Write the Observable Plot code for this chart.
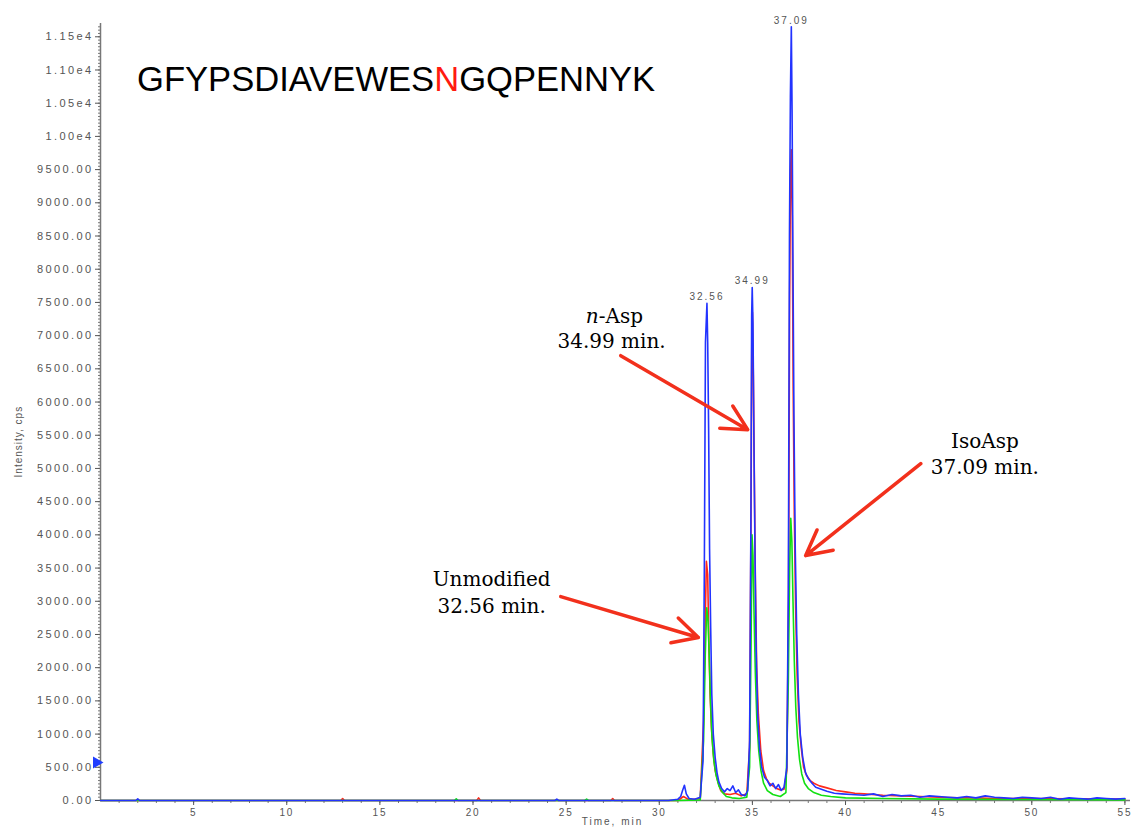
<!DOCTYPE html>
<html>
<head>
<meta charset="utf-8">
<script src="https://cdn.jsdelivr.net/npm/d3@7"></script>
<script src="https://cdn.jsdelivr.net/npm/@observablehq/plot@0.6"></script>
<style>
  html, body { margin: 0; padding: 0; background: #fff; }
  #wrap { position: relative; width: 1134px; height: 830px; overflow: hidden; }
  #title { position: absolute; left: 137px; top: 62px; font-family: "Liberation Sans", Arial, sans-serif;
           font-size: 34.6px; line-height: 1; color: #000; white-space: nowrap; }
  #title .mut { color: #ff1a10; }
  .chrom g[aria-label="y-axis tick label"] text { letter-spacing: 2.4px; }
  .chrom g[aria-label="x-axis tick label"] text { letter-spacing: 1.8px; }
  .chrom .small text { letter-spacing: 2px; }
  .chrom .ylab text { letter-spacing: 1px; }
</style>
</head>
<body>
<div id="wrap">
  <div id="chart"></div>
  <div id="title">GFYPSDIAVEWES<span class="mut">N</span>GQPENNYK</div>
</div>
<script>
// ---- data: [time (min), intensity (cps)] ----
const blueTrace = [
  [0,0],[1.9,0],[2.0,25],[2.1,0],[8,0],[12.9,0],[13.1,0],[19.5,0],[24.4,0],[24.5,20],[24.6,0],[28,0],[30.5,0],
  [31.0,20],[31.15,60],[31.25,150],[31.35,230],[31.45,100],[31.6,30],[31.9,20],
  [32.2,50],[32.35,600],[32.42,3500],[32.48,6900],[32.56,7485],[32.60,6900],[32.65,5600],[32.70,3800],[32.76,2600],[32.82,1600],[32.90,1000],
  [33.0,650],[33.1,420],[33.2,280],[33.35,180],[33.5,130],[33.65,180],[33.8,150],[33.95,220],
  [34.1,120],[34.25,160],[34.4,90],[34.6,70],[34.75,150],[34.85,900],[34.92,4200],[34.96,7300],[34.99,7725],
  [35.03,7200],[35.08,5500],[35.14,3700],[35.2,2300],[35.28,1300],[35.38,800],[35.5,500],[35.65,350],[35.8,300],[35.95,220],
  [36.1,260],[36.25,180],[36.4,240],[36.55,150],[36.7,200],[36.85,500],[36.93,3200],[36.99,8500],
  [37.04,10600],[37.09,11650],[37.13,10400],[37.18,8000],[37.23,5800],[37.3,3800],[37.38,2500],[37.47,1600],[37.57,1000],[37.7,650],[37.85,420],
  [38.0,330],[38.2,260],[38.4,200],[38.7,170],[39.0,140],[39.4,110],[39.8,100],[40.3,90],
  [41.0,80],[41.5,100],[42.0,60],[42.5,90],[43.0,70],[43.5,80],[44.0,50],[44.5,70],[45.0,60],[45.5,50],
  [46.0,40],[46.5,60],[47.0,40],[47.5,70],[48.0,50],[48.5,40],[49.0,30],[49.5,50],[50.0,40],[50.5,30],
  [51.0,50],[51.5,20],[52.0,40],[52.5,30],[53.0,20],[53.5,40],[54.0,30],[54.5,20],[55.0,30]
];
const redTrace = [
  [0,0],[12.9,0],[13.0,30],[13.1,0],[20.2,0],[20.3,40],[20.4,0],[27.4,0],[27.5,30],[27.6,0],[31,0],[31.3,60],[31.6,10],
  [32.2,30],[32.38,1200],[32.46,2600],[32.53,3600],[32.6,3400],[32.66,2400],[32.73,1600],[32.8,1100],[32.9,700],
  [33.0,450],[33.15,280],[33.3,150],[33.5,100],[33.8,90],[34.1,110],[34.4,70],[34.7,100],
  [34.85,800],[34.92,4000],[34.97,7000],[35.0,7350],[35.05,6400],[35.1,5000],[35.16,3300],[35.23,2000],[35.32,1300],[35.45,750],
  [35.6,450],[35.75,330],[35.9,260],[36.1,220],[36.3,180],[36.5,160],[36.7,170],
  [36.85,450],[36.94,3000],[37.0,7600],[37.05,9500],[37.09,9800],[37.14,8800],[37.19,6200],[37.25,4300],[37.32,2900],[37.4,1900],
  [37.5,1200],[37.62,800],[37.75,500],[37.9,380],[38.1,300],[38.3,260],[38.6,220],[39,190],[39.5,150],[40,130],[40.5,110],
  [41,100],[42,80],[43,70],[44,60],[45,50],[46,40],[47,40],[48,30],[50,30],[52,25],[55,20]
];
const greenTrace = [
  [0,0],[19,0],[19.1,25],[19.2,0],[26,0],[26.1,20],[26.2,0],[31,0],
  [32.2,10],[32.38,900],[32.47,2200],[32.55,2900],[32.62,2700],[32.68,2200],[32.75,1500],[32.83,950],[32.93,600],
  [33.05,380],[33.2,220],[33.4,120],[33.6,60],[33.9,40],[34.3,30],[34.7,50],
  [34.85,500],[34.93,2400],[34.98,4000],[35.03,3700],[35.09,2800],[35.16,1900],[35.24,1200],[35.34,750],[35.46,450],
  [35.6,260],[35.8,150],[36.1,90],[36.5,60],[36.8,120],
  [36.93,1800],[37.0,3500],[37.06,4250],[37.12,3900],[37.18,3000],[37.25,2100],[37.33,1400],[37.42,950],[37.53,620],
  [37.65,400],[37.8,260],[38,180],[38.3,120],[38.7,80],[39.2,60],[40,40],[42,30],[45,20],[50,15],[55,10]
];
const peakTimes = [32.56, 34.99, 37.09];
const peakHeights = [7485, 7725, 11650];
const peakLabels = ["32.56", "34.99", "37.09"];
const markerLevel = 572;
// annotation arrows (tail -> tip), in data units
const arrowX1 = [27.93, 24.71, 44.04];
const arrowY1 = [6698, 3071, 5073];
const arrowX2 = [34.75, 32.10, 37.86];
const arrowY2 = [5584, 2454, 3688];
// tick values
const yMajor = d3.range(0, 11501, 500);
const yMinor = d3.range(0, 11651, 50);
const xMajor = d3.range(5, 56, 5);
const xMinor = d3.range(1, 56, 1);

const yFmt = d => d >= 10000 ? (d / 1e4).toFixed(2) + "e4" : d.toFixed(2);
const toRows = arr => arr.map(([t, v]) => ({t, v}));
const serif = "DejaVu Serif, serif";

const plot = Plot.plot({
  width: 1134,
  height: 830,
  marginLeft: 100,
  marginRight: 4,
  marginTop: 23,
  marginBottom: 30,
  className: "chrom",
  style: {background: "white", fontFamily: "Liberation Sans, Arial, sans-serif", overflow: "visible"},
  x: {domain: [0, 55.3], axis: null},
  y: {domain: [0, 11700], axis: null},
  marks: [
    Plot.axisY({ticks: yMinor, tickSize: 2, tickFormat: () => "", label: null, color: "#777"}),
    Plot.axisY({ticks: yMajor, tickSize: 5, tickPadding: 2, tickFormat: yFmt, label: null, fontSize: 11, color: "#555"}),
    Plot.axisX({ticks: xMinor, tickSize: 3, tickFormat: () => "", label: null, color: "#777"}),
    Plot.axisX({ticks: xMajor, tickSize: 5, tickPadding: 3, tickFormat: d => String(d), label: null, fontSize: 10, color: "#555"}),
    Plot.ruleX([0], {stroke: "#777", strokeWidth: 1.5}),
    Plot.ruleY([0], {stroke: "#777", strokeWidth: 1.5}),
    Plot.text(["Intensity, cps"], {x: -4.4, y: 5404, rotate: -90, fontSize: 10, fill: "#555", className: "ylab"}),
    Plot.text(["Time, min"], {x: 27.49, y: -316, fontSize: 10, fill: "#555", className: "small"}),
    Plot.line(toRows(redTrace), {x: "t", y: "v", stroke: "#ff2a1a", strokeWidth: 1.6}),
    Plot.line(toRows(greenTrace), {x: "t", y: "v", stroke: "#12e012", strokeWidth: 1.6}),
    Plot.line(toRows(blueTrace), {x: "t", y: "v", stroke: "#2233ff", strokeWidth: 1.6}),
    Plot.text(peakLabels, {x: peakTimes, y: peakHeights, text: d => d, lineAnchor: "bottom", dy: -3, fontSize: 10, fill: "#555", className: "small"}),
    Plot.dot([markerLevel], {x: 0, y: d => d, symbol: "triangle", rotate: 90, r: 4.5, fill: "#1f3dff", stroke: "none", dx: -4}),
    Plot.arrow(peakTimes, {x1: arrowX1, y1: arrowY1, x2: arrowX2, y2: arrowY2, stroke: "#f2301c", strokeWidth: 3.5, headLength: 12, headAngle: 55}),
    // annotations
    Plot.text(["n"], {x: 26.75, y: 7195, lineAnchor: "bottom", textAnchor: "end", fontFamily: serif, fontStyle: "italic", fontSize: 20, fill: "#000"}),
    Plot.text(["-Asp"], {x: 26.75, y: 7195, lineAnchor: "bottom", textAnchor: "start", fontFamily: serif, fontSize: 20, fill: "#000"}),
    Plot.text(["34.99 min."], {x: 27.44, y: 6819, lineAnchor: "bottom", fontFamily: serif, fontSize: 20, fill: "#000"}),
    Plot.text(["Unmodified\n32.56 min."], {x: 21.0, y: 2830, lineAnchor: "bottom", lineHeight: 1.35, fontFamily: serif, fontSize: 20, fill: "#000"}),
    Plot.text(["IsoAsp\n37.09 min."], {x: 47.48, y: 4922, lineAnchor: "bottom", lineHeight: 1.3, fontFamily: serif, fontSize: 20, fill: "#000"})
  ]
});
document.getElementById("chart").appendChild(plot);
</script>
</body>
</html>
